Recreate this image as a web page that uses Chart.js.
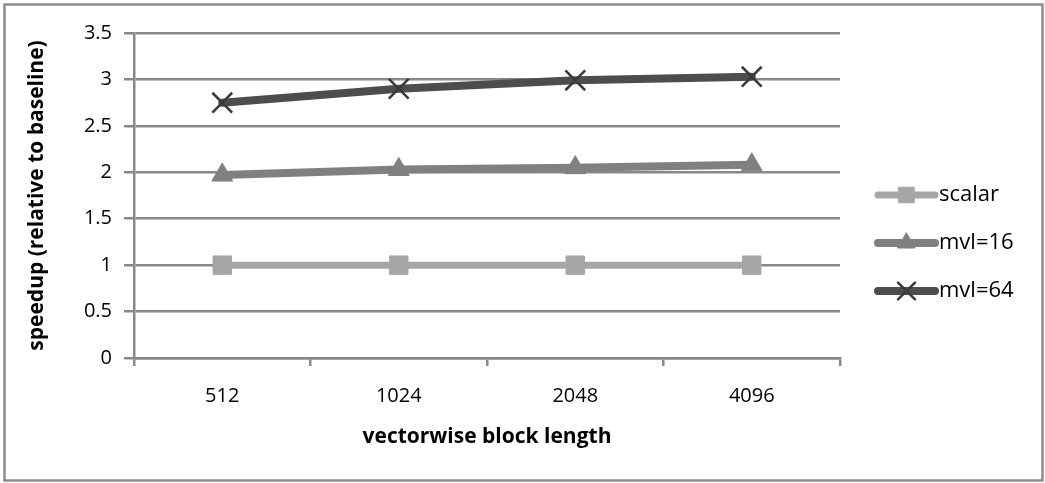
<!DOCTYPE html>
<html>
<head>
<meta charset="utf-8">
<script src="https://cdn.jsdelivr.net/npm/chart.js@4/dist/chart.umd.min.js"></script>
<style>
  html, body { margin: 0; padding: 0; background: #fff; }
  canvas { display: block; }
</style>
</head>
<body>
<canvas id="speedupChart" width="1045" height="483"></canvas>
<script>
// block lengths on the x axis and the speedup of each variant
const blockLengths = ['512', '1024', '2048', '4096'];
const scalarSpeedup = [1, 1, 1, 1];
const mvl16Speedup = [1.97, 2.03, 2.05, 2.08];
const mvl64Speedup = [2.75, 2.90, 2.99, 3.03];
const yTickLabels = ['0', '0.5', '1', '1.5', '2', '2.5', '3', '3.5'];

const FONT = '"Open Sans", "Liberation Sans", sans-serif';
const GRID = '#888888';

// outer frame + white background
const framePlugin = {
    id: 'frame',
    beforeDraw(chart) {
        const ctx = chart.ctx;
        ctx.save();
        ctx.fillStyle = '#fff';
        ctx.fillRect(0, 0, chart.width, chart.height);
        ctx.strokeStyle = '#8c8c8c';
        ctx.lineWidth = 2.5;
        ctx.strokeRect(4.5, 4.5, 1038, 476);
        ctx.restore();
    }
};

// legend on the right: short line with the marker in the middle
const sideLegend = {
    id: 'sideLegend',
    afterDraw(chart) {
        const ctx = chart.ctx;
        const x0 = 878, x1 = 935;
        chart.data.datasets.forEach((ds, i) => {
            const y = 195 + i * 48;
            ctx.save();
            ctx.strokeStyle = ds.borderColor;
            ctx.lineWidth = ds.borderWidth;
            ctx.lineCap = 'round';
            ctx.beginPath();
            ctx.moveTo(x0, y);
            ctx.lineTo(x1, y);
            ctx.stroke();
            if (Chart.helpers && Chart.helpers.drawPoint) {
                ctx.fillStyle = ds.pointBackgroundColor;
                ctx.strokeStyle = ds.pointBorderColor;
                ctx.lineWidth = ds.pointBorderWidth;
                Chart.helpers.drawPoint(ctx, {
                    pointStyle: ds.pointStyle,
                    radius: ds.pointRadius - 2,
                    rotation: 0,
                    borderWidth: ds.pointBorderWidth
                }, (x0 + x1) / 2, y);
            }
            ctx.fillStyle = '#000';
            ctx.font = '22px ' + FONT;
            ctx.textBaseline = 'middle';
            ctx.textAlign = 'left';
            ctx.fillText(ds.label, x1 + 4, y);
            ctx.restore();
        });
    }
};

const ctx = document.getElementById('speedupChart').getContext('2d');
new Chart(ctx, {
    type: 'line',
    data: {
        labels: blockLengths,
        datasets: [{
            label: 'scalar',
            data: scalarSpeedup,
            borderColor: '#a6a6a6',
            borderWidth: 7,
            pointStyle: 'rect',
            pointRadius: 13,
            pointBackgroundColor: '#a6a6a6',
            pointBorderColor: '#a6a6a6',
            pointBorderWidth: 1
        }, {
            label: 'mvl=16',
            data: mvl16Speedup,
            borderColor: '#808080',
            borderWidth: 8,
            pointStyle: 'triangle',
            pointRadius: 12,
            pointBackgroundColor: '#808080',
            pointBorderColor: '#808080',
            pointBorderWidth: 1
        }, {
            label: 'mvl=64',
            data: mvl64Speedup,
            borderColor: '#4d4d4d',
            borderWidth: 8,
            pointStyle: 'crossRot',
            pointRadius: 14,
            pointBackgroundColor: '#3a3a3a',
            pointBorderColor: '#3a3a3a',
            pointBorderWidth: 2.5
        }]
    },
    options: {
        responsive: false,
        animation: false,
        events: [],
        elements: {
            line: { tension: 0, borderCapStyle: 'round', borderJoinStyle: 'round' }
        },
        layout: { padding: { top: 33, right: 205, left: 0, bottom: 0 } },
        plugins: {
            legend: { display: false },
            tooltip: { enabled: false }
        },
        scales: {
            x: {
                offset: true,
                grid: {
                    offset: true,
                    drawOnChartArea: false,
                    color: GRID,
                    lineWidth: 2.5,
                    tickLength: 8
                },
                border: { color: GRID, width: 2.5 },
                ticks: { color: '#000', padding: 18, font: { family: FONT, size: 20 } },
                title: {
                    display: true,
                    text: 'vectorwise block length',
                    color: '#000',
                    font: { family: FONT, size: 21, weight: 'bold' },
                    padding: { top: 4, bottom: 33 }
                },
                afterFit(scale) { scale.height = 125; }
            },
            y: {
                min: 0,
                max: 3.5,
                grid: { color: GRID, lineWidth: 2.5, tickLength: 10 },
                border: { color: GRID, width: 2.5 },
                ticks: {
                    stepSize: 0.5,
                    color: '#000',
                    padding: 12,
                    font: { family: FONT, size: 20 },
                    callback: (v, i) => yTickLabels[i]
                },
                title: {
                    display: true,
                    text: 'speedup (relative to baseline)',
                    color: '#000',
                    font: { family: FONT, size: 21, weight: 'bold' },
                    padding: { top: 24, bottom: 4 }
                },
                afterFit(scale) { scale.width = 134; }
            }
        }
    },
    plugins: [framePlugin, sideLegend]
});
</script>
</body>
</html>
